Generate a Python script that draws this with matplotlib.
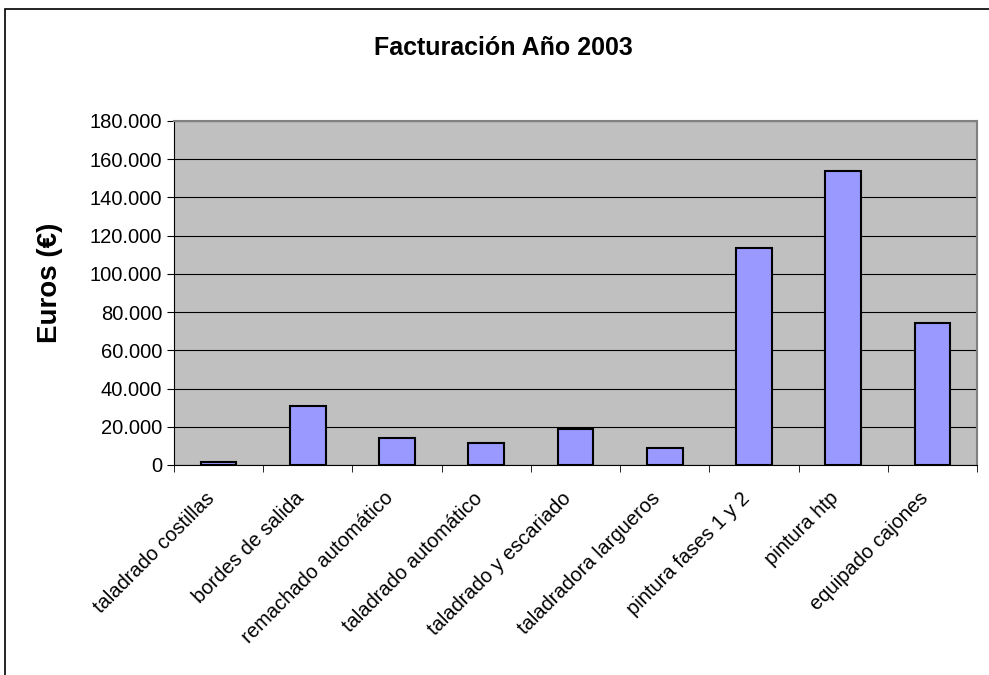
import matplotlib.pyplot as plt
import matplotlib.ticker as mticker
import matplotlib.transforms as mtransforms
from matplotlib.patches import Rectangle
import numpy as np

plt.rcParams["font.family"] = ["Liberation Sans", "DejaVu Sans"]

categories = [
    "taladrado costillas",
    "bordes de salida",
    "remachado automático",
    "taladrado automático",
    "taladrado y escariado",
    "taladradora largueros",
    "pintura fases 1 y 2",
    "pintura htp",
    "equipado cajones",
]
facturacion = [1500, 31000, 14200, 11300, 18600, 8700, 113500, 153800, 74200]
y_ticks = [0, 20000, 40000, 60000, 80000, 100000, 120000, 140000, 160000, 180000]


def thousands(v, pos):
    return f"{int(v):,}".replace(",", ".")


fig = plt.figure(figsize=(9.89, 6.75), dpi=100)
ax = fig.add_axes([174 / 989, 1 - 465 / 675, (977 - 174) / 989, (465 - 121) / 675])

# chart border (cropped on the right and bottom)
fig.patches.append(Rectangle((5 / 989, -0.1), 1.2, 1 - 9 / 675 + 0.1,
                             transform=fig.transFigure, fill=False,
                             edgecolor="black", linewidth=1.2))

x = np.arange(len(categories))
ax.set_facecolor("#C0C0C0")
ax.bar(x, facturacion, width=0.4, color="#9999FF", edgecolor="black",
       linewidth=1.5, zorder=3)

ax.set_xlim(-0.5, len(categories) - 0.5)
ax.set_ylim(0, 180000)
ax.set_yticks(y_ticks)
ax.yaxis.set_major_formatter(mticker.FuncFormatter(thousands))
ax.grid(axis="y", color="black", linewidth=0.8, zorder=1)

ax.set_xticks(x)
ax.set_xticklabels(categories, rotation=45, ha="right", rotation_mode="anchor")
ax.set_xticks(np.arange(-0.5, len(categories)), minor=True)
ax.tick_params(axis="x", which="major", length=0, pad=17, labelsize=14.5)
ax.tick_params(axis="x", which="minor", length=5, direction="out")
ax.tick_params(axis="y", length=5, direction="out", labelsize=14.5)

# nudge the slanted labels a little to the left, like the original
shift = mtransforms.ScaledTranslation(-10 / 72, 0, fig.dpi_scale_trans)
for lbl in ax.get_xticklabels():
    lbl.set_transform(lbl.get_transform() + shift)

for side in ["top", "right"]:
    ax.spines[side].set_color("#808080")
    ax.spines[side].set_linewidth(1.5)
ax.spines["left"].set_color("black")
ax.spines["bottom"].set_color("black")

ax.set_ylabel("Euros (€)", fontsize=20, fontweight="bold")
ax.yaxis.set_label_coords(-0.138, 0.529)
fig.text(503 / 989, 1 - 48 / 675, "Facturación Año 2003",
         ha="center", va="center", fontsize=18, fontweight="bold")

fig.savefig("out.png", dpi=100)
